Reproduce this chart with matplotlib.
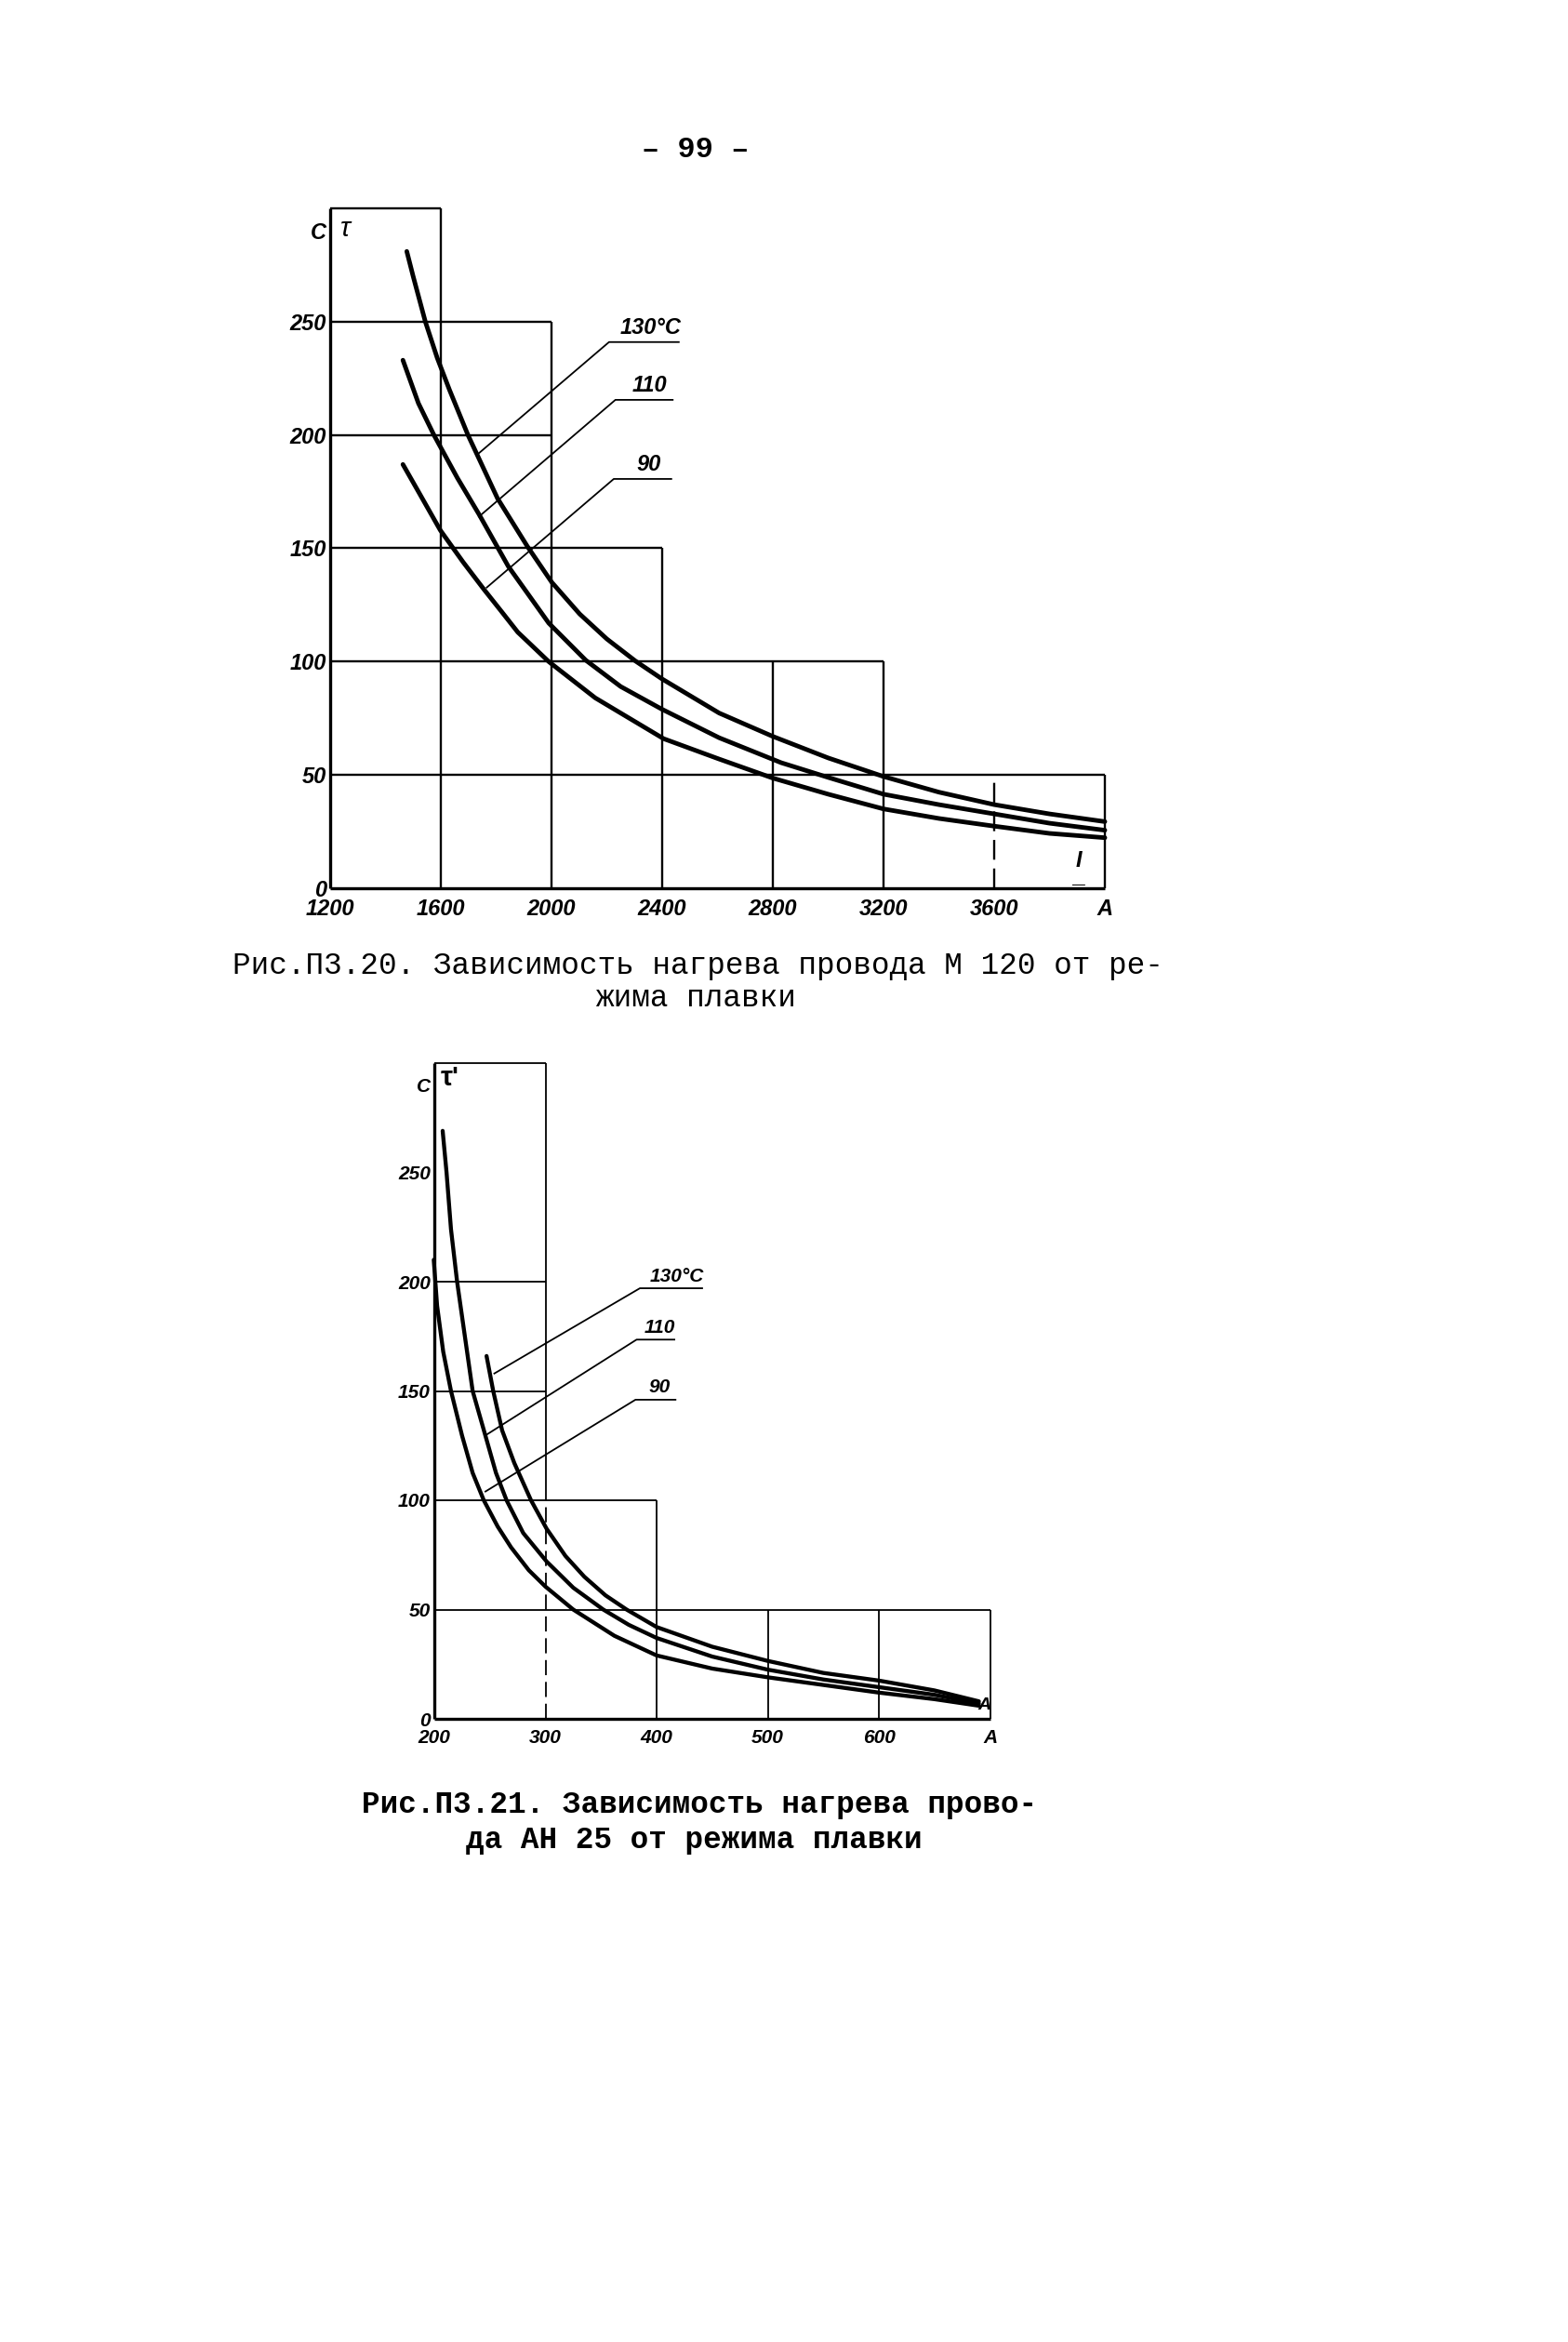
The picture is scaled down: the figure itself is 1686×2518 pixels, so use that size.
import matplotlib.pyplot as plt

# Рис. П3.20 - провод М 120, ток I (A) / нагрев tau (C)
m_i_130 = [1477, 1500, 1544, 1587, 1631, 1698, 1805, 1912, 2001, 2102, 2200,
           2303, 2399, 2606, 2800, 3000, 3200, 3400, 3600, 3800, 4000]
m_t_130 = [281, 270, 250, 234, 220, 200, 172, 151, 135, 121, 110,
           100.3, 92.4, 77.3, 67, 57.5, 49.3, 42.4, 36.9, 32.8, 29.4]
m_i_110 = [1463, 1519, 1575, 1660, 1738, 1844, 1990, 2124, 2250, 2399,
           2606, 2830, 3000, 3200, 3400, 3600, 3800, 4000]
m_t_110 = [233, 214, 200, 181, 165, 142, 117, 100.6, 89, 79,
           66.4, 55.4, 48.9, 41.5, 36.9, 32.8, 28.7, 25.6]
m_i_90 = [1463, 1519, 1598, 1680, 1755, 1820, 1878, 1990, 2158, 2405, 2606,
          2800, 3000, 3200, 3400, 3600, 3800, 4000]
m_t_90 = [187, 175, 158, 144, 132, 122, 113, 100, 84, 66, 57,
          48.6, 41.5, 35, 30.8, 27.4, 24.2, 22.3]

# Рис. П3.21 - провод АН 25
an_i_130 = [247, 253, 261, 272, 287, 301, 318, 335, 354, 373, 400,
            450, 500, 550, 600, 650, 690]
an_t_130 = [166, 150, 132, 117, 100, 87, 74.5, 65, 56.5, 50, 42,
            33, 26.5, 21, 17.5, 13, 8]
an_i_110 = [207.5, 211, 215, 220.5, 227.5, 234.5, 246, 255.5, 265, 280,
            301, 325, 352, 375, 400, 450, 500, 550, 600, 650, 690]
an_t_110 = [269, 250, 224, 200, 175, 150, 129.5, 112.5, 100, 85,
            72, 60, 50, 43, 37, 28.5, 22.5, 18, 14.5, 11, 7]
an_i_90 = [199.5, 202.5, 208, 215, 225, 234.5, 244.5, 257, 269, 285,
           300, 325, 362, 400, 450, 500, 550, 600, 650, 690]
an_t_90 = [210, 189, 168, 150, 129.5, 112.5, 100, 88, 78.5, 68,
           60.5, 50, 38, 29, 23, 19, 15.5, 12, 9, 6]

curve_labels = ["130°C", "110", "90"]

# tick labels
m_xticks = [1200, 1600, 2000, 2400, 2800, 3200, 3600, 4000]
m_xlabels = ["1200", "1600", "2000", "2400", "2800", "3200", "3600", "A"]
an_xticks = [200, 300, 400, 500, 600, 700]
an_xlabels = ["200", "300", "400", "500", "600", "A"]
t_ticks = [0, 50, 100, 150, 200, 250, 290]
t_labels = ["0", "50", "100", "150", "200", "250", "C"]

# staircase boxes of the nomogram: (level, from, to)
m_hlines = [(300, 1200, 1600), (250, 1200, 2000), (200, 1200, 2000),
            (150, 1200, 2400), (100, 1200, 3200), (50, 1200, 4000)]
m_vlines = [(1600, 0, 300), (2000, 0, 250), (2400, 0, 150),
            (2800, 0, 100), (3200, 0, 100), (4000, 0, 50)]
m_vdashed = [(3600, 0, 50)]
an_hlines = [(300, 200, 300), (200, 200, 300), (150, 200, 300),
             (100, 200, 400), (50, 200, 700)]
an_vlines = [(300, 100, 300), (400, 0, 100), (500, 0, 50),
             (600, 0, 50), (700, 0, 50)]
an_vdashed = [(300, 0, 100)]

# leader lines: (curve point, elbow, end) for 130, 110, 90
m_leaders = [[(1738, 192), (2208, 241), (2460, 241)],
             [(1738, 164), (2231, 215.5), (2438, 215.5)],
             [(1766, 132.7), (2225, 180.6), (2433, 180.6)]]
an_leaders = [[(254, 158), (385, 197), (441, 197)],
              [(247, 130), (382, 173.5), (416, 173.5)],
              [(246, 104), (381, 146), (417, 146)]]

W, H = 1686, 2518
hand = ["Liberation Sans", "DejaVu Sans"]
mono = ["Liberation Mono", "DejaVu Sans Mono"]


def draw_grid(ax, hlines, vlines, vdashed, lw):
    for y, x0, x1 in hlines:
        ax.hlines(y, x0, x1, color="black", lw=lw, clip_on=False)
    for x, y0, y1 in vlines:
        ax.vlines(x, y0, y1, color="black", lw=lw, clip_on=False)
    for x, y0, y1 in vdashed:
        ax.vlines(x, y0, y1, color="black", lw=lw, clip_on=False,
                  linestyles=(0, (9, 4)))


def draw_leaders(ax, leaders, fs, dy):
    for pts, label in zip(leaders, curve_labels):
        xs = [p[0] for p in pts]
        ys = [p[1] for p in pts]
        ax.plot(xs, ys, color="black", lw=1.3)
        ax.text((xs[1] + xs[2]) / 2 + (xs[2] - xs[1]) * 0.1, ys[2] + dy,
                label, family=hand, fontsize=fs, fontweight="bold",
                style="italic", ha="center", va="bottom")


def style_axes(ax, xticks, xlabels, xlim, fs):
    ax.set_xlim(*xlim)
    ax.set_ylim(0, 300)
    for s in ax.spines.values():
        s.set_visible(False)
    ax.set_xticks(xticks, xlabels)
    ax.set_yticks(t_ticks, t_labels)
    ax.tick_params(length=0, labelsize=fs)
    ax.tick_params(axis="x", pad=8)
    ax.tick_params(axis="y", pad=3)
    for lab in ax.get_xticklabels() + ax.get_yticklabels():
        lab.set_family(hand)
        lab.set_fontweight("bold")
        lab.set_style("italic")


fig = plt.figure(figsize=(W / 100, H / 100), dpi=100)
fig.patch.set_facecolor("white")

# top chart
ax1 = fig.add_axes([355 / W, 1 - 955 / H, 833 / W, 731 / H])
style_axes(ax1, m_xticks, m_xlabels, (1200, 4000), 17)
draw_grid(ax1, m_hlines, m_vlines, m_vdashed, 1.7)
ax1.vlines(1200, 0, 300, color="black", lw=2.4, clip_on=False)
ax1.hlines(0, 1200, 4000, color="black", lw=2.4, clip_on=False)
for xs, ys in [(m_i_130, m_t_130), (m_i_110, m_t_110), (m_i_90, m_t_90)]:
    ax1.plot(xs, ys, color="black", lw=3.5, solid_joinstyle="round",
             solid_capstyle="round", clip_on=False)
draw_leaders(ax1, m_leaders, 17, 1.5)
ax1.text(1256, 291, "τ", family=hand, fontsize=21, style="italic",
         ha="center", va="center")
ax1.text(3905, 12, "I", family=hand, fontsize=17, fontweight="bold",
         style="italic", ha="center", va="center")
ax1.text(3905, 1.5, "—", family=hand, fontsize=10, ha="center", va="center")

# bottom chart
ax2 = fig.add_axes([467 / W, 1 - 1848 / H, 597.5 / W, 705 / H])
style_axes(ax2, an_xticks, an_xlabels, (200, 700), 15)
draw_grid(ax2, an_hlines, an_vlines, an_vdashed, 1.3)
ax2.vlines(200, 0, 300, color="black", lw=2.4, clip_on=False)
ax2.hlines(0, 200, 700, color="black", lw=2.4, clip_on=False)
for xs, ys in [(an_i_130, an_t_130), (an_i_110, an_t_110),
               (an_i_90, an_t_90)]:
    ax2.plot(xs, ys, color="black", lw=3.1, solid_joinstyle="round",
             solid_capstyle="round", clip_on=False)
draw_leaders(ax2, an_leaders, 15, 1.5)
ax2.text(214, 293, "τ'", family=hand, fontsize=21, fontweight="bold",
         ha="center", va="center")
ax2.text(695, 6, "A", family=hand, fontsize=14, fontweight="bold",
         style="italic", ha="center", va="center")

# page number and captions
fig.text(748 / W, 1 - 161 / H, "– 99 –", family=mono, fontsize=23,
         fontweight="bold", ha="center", va="center")
fig.text(750 / W, 1 - 1039 / H,
         "Рис.П3.20. Зависимость нагрева провода М 120 от ре-",
         family=mono, fontsize=23.5, ha="center", va="center")
fig.text(748 / W, 1 - 1073 / H, "жима плавки", family=mono, fontsize=23.5,
         ha="center", va="center")
fig.text(752 / W, 1 - 1940 / H, "Рис.П3.21. Зависимость нагрева прово-",
         family=mono, fontsize=23.5, fontweight="bold", ha="center",
         va="center")
fig.text(746 / W, 1 - 1979 / H, "да АН 25 от режима плавки", family=mono,
         fontsize=23.5, fontweight="bold", ha="center", va="center")

fig.savefig("out.png", dpi=100, facecolor="white")
